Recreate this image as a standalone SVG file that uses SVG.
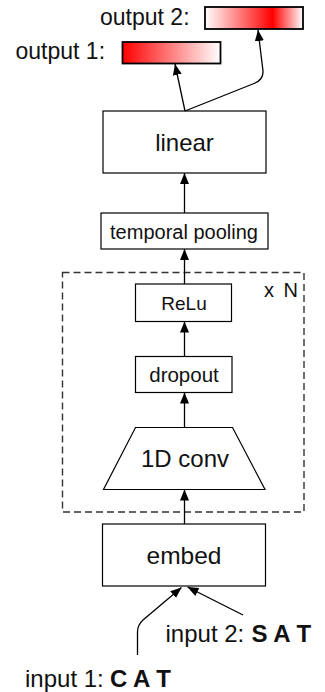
<svg xmlns="http://www.w3.org/2000/svg" width="325" height="692" viewBox="0 0 325 692">
<style>
  text { font-family: "Liberation Sans", Arial, Helvetica, sans-serif; fill: #111; }
  .box { fill: #fff; stroke: #000; stroke-width: 1.2; }
  .bar { stroke: #000; stroke-width: 1.8; }
  .conn { fill: none; stroke: #000; stroke-width: 1.3; marker-end: url(#ah); }
  .c { text-anchor: middle; }
  .b { font-weight: bold; }
</style>
<defs>
  <marker id="ah" viewBox="0 0 11 10" refX="11" refY="5" markerWidth="11" markerHeight="10" markerUnits="userSpaceOnUse" orient="auto">
    <path d="M0,0.5 L11,5 L0,9.5 Z" fill="#000"/>
  </marker>
  <linearGradient id="g1" x1="0" y1="0" x2="1" y2="0">
    <stop offset="0" stop-color="#ff0000"/>
    <stop offset="1" stop-color="#ffffff"/>
  </linearGradient>
  <linearGradient id="g2" x1="0" y1="0" x2="1" y2="0">
    <stop offset="0" stop-color="#ffffff"/>
    <stop offset="0.69" stop-color="#ff0000"/>
    <stop offset="1" stop-color="#ffffff"/>
  </linearGradient>
</defs>

<g id="output2">
  <text x="100" y="25" font-size="23">output 2:</text>
  <rect class="bar" x="205" y="7" width="98" height="22" fill="url(#g2)"/>
</g>
<g id="output1">
  <text x="15.5" y="58.5" font-size="23">output 1:</text>
  <rect class="bar" x="122.5" y="42" width="98" height="21.5" fill="url(#g1)"/>
</g>
<g id="linear">
  <rect class="box" x="103" y="111" width="163" height="62"/>
  <text class="c" x="184.5" y="151" font-size="24">linear</text>
</g>
<g id="temporal-pooling">
  <rect class="box" x="101" y="213" width="167" height="36"/>
  <text class="c" x="184" y="239" font-size="20">temporal pooling</text>
</g>
<g id="repeat-block">
  <rect x="62.5" y="272.5" width="241.5" height="239.5" fill="none" stroke="#333" stroke-width="1.4" stroke-dasharray="7 4"/>
  <text x="298" y="296.5" font-size="20" text-anchor="end" word-spacing="4">x N</text>
</g>
<g id="relu">
  <rect class="box" x="135.5" y="284" width="96" height="37.5"/>
  <text class="c" x="184" y="309.5" font-size="19">ReLu</text>
</g>
<g id="dropout">
  <rect class="box" x="135.5" y="356.5" width="96.5" height="36"/>
  <text class="c" x="184" y="382" font-size="20.5">dropout</text>
</g>
<g id="conv">
  <polygon class="box" points="135.5,427.5 232.5,427.5 265,489.5 103.5,489.5"/>
  <text class="c" x="185" y="467" font-size="24">1D conv</text>
</g>
<g id="embed">
  <rect class="box" x="102.5" y="524" width="163" height="62"/>
  <text class="c" x="184" y="563.5" font-size="24.5">embed</text>
</g>
<g id="input2">
  <text x="165.5" y="642" font-size="24">input 2:</text>
  <text class="b" x="251.5" y="642" font-size="24">S A T</text>
</g>
<g id="input1">
  <text x="25" y="686.5" font-size="24">input 1:</text>
  <text class="b" x="110" y="686.5" font-size="24">C A T</text>
</g>

<g id="connectors">
  <path class="conn" d="M184.5,524 L184.5,489.5"/>
  <path class="conn" d="M184.5,427.5 L184.5,392.5"/>
  <path class="conn" d="M184.5,356.5 L184.5,321.5"/>
  <path class="conn" d="M184.5,284 L184.5,249"/>
  <path class="conn" d="M184.5,213 L184.5,173"/>
  <path class="conn" d="M185,111 L175,64"/>
  <path class="conn" d="M185,111 L254,83.5 Q263.5,80 263,71 L258,30"/>
  <path class="conn" d="M137.5,655 L137.5,632 Q137.5,625 143,620 L181.5,587.5"/>
  <path class="conn" d="M243,615 L187.5,587"/>
</g>
</svg>
